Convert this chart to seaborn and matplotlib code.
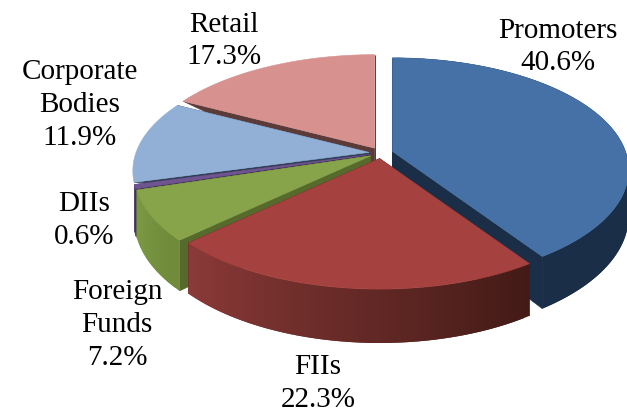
import numpy as np
import matplotlib
matplotlib.use("Agg")
import matplotlib.pyplot as plt
import seaborn as sns

# Data
categories = ["Promoters", "FIIs", "Foreign\nFunds", "DIIs", "Corporate\nBodies", "Retail"]
shares = [40.6, 22.3, 7.2, 0.6, 11.9, 17.3]

# Style
top_colors = ["#4671A6", "#A5423F", "#88A44B", "#6F5590", "#92B0D6", "#D79290"]
wall_colors = ["#1A2E47", "#4A1C18", "#566B2B", "#3F2F58", "#2F4058", "#5A3B3A"]
side_left = ["#1A2E47", "#8A3A38", "#7C9A45", "#5A4578", "#6E88AA", "#A87472"]
side_right = ["#1A2E47", "#431A16", "#6E8A3A", "#3F2F58", "#4A5F7C", "#7A5250"]
label_xy = [(558, 47), (318, 384), (117, 325), (84, 221), (80, 105), (224, 41)]
draw_order = [5, 4, 3, 2, 0, 1]

CX, CY = 381.0, 154.0      # pie centre in pixels
RX, RY = 233.0, 109.0      # projected radii
PERSP = 0.165              # near edge looks larger
DEPTH = 45.0               # pie thickness
EXPLODE = 12.0

sns.set_theme(style="white")
plt.rcParams["font.family"] = ["Liberation Serif", "DejaVu Serif"]

fig = plt.figure(figsize=(6.27, 4.14), dpi=100, facecolor="white")
ax = fig.add_axes([0, 0, 1, 1])
ax.set_xlim(0, 627)
ax.set_ylim(414, 0)
ax.axis("off")


def project(ox, oy, theta, r=1.0, drop=0.0):
    """Clockwise-from-top angle on the exploded disc -> screen position."""
    s, c = np.sin(theta), np.cos(theta)
    depth_y = -c * r
    w = 1.0 - PERSP * depth_y
    return ox + RX * s * r / w, oy + RY * depth_y / w + drop * DEPTH / w


def paint(xs, ys, color, z, lw=0.4):
    ax.fill(xs, ys, facecolor=color, edgecolor=color, linewidth=lw, zorder=z)


total = sum(shares)
fractions = np.array(shares) / total
edges = np.concatenate([[0.0], np.cumsum(fractions)]) * 2 * np.pi

for z, i in enumerate(draw_order):
    a0, a1 = edges[i], edges[i + 1]
    mid = (a0 + a1) / 2
    ox = CX + EXPLODE * np.sin(mid)
    oy = CY - EXPLODE * RY / RX * np.cos(mid)
    arc = np.linspace(a0, a1, max(6, int((a1 - a0) * 40)))
    base = z * 10
    # outer wall of the upper-left slices faces away from the viewer
    back_slice = np.cos(mid) >= -PERSP and np.sin(mid) < 0

    # radial walls
    for a in (a0, a1):
        ex, ey = project(ox, oy, a)
        if back_slice:
            paint([ox, ex, ox], [oy, ey, oy + DEPTH], wall_colors[i], base)
        else:
            fx, fy = project(ox, oy, a, drop=1)
            paint([ox, ex, fx, ox], [oy, ey, fy, oy + DEPTH], wall_colors[i], base)

    # outer wall, shaded along the arc, each strip overlapping the next
    if not back_slice:
        shades = sns.blend_palette([side_right[i], side_left[i]], len(arc) - 1)
        for j in range(len(arc) - 1):
            stop = arc[min(j + 2, len(arc) - 1)]
            x1, y1 = project(ox, oy, arc[j])
            x2, y2 = project(ox, oy, stop)
            x3, y3 = project(ox, oy, stop, drop=1)
            x4, y4 = project(ox, oy, arc[j], drop=1)
            ax.fill([x1, x2, x3, x4], [y1, y2, y3, y4], facecolor=shades[j],
                    edgecolor="none", zorder=base + 1)

    # top face
    tx, ty = project(ox, oy, arc)
    paint(np.r_[ox, tx], np.r_[oy, ty], top_colors[i], base + 2)

# labels
for name, share, (lx, ly) in zip(categories, shares, label_xy):
    ax.text(lx, ly, f"{name}\n{share:.1f}%", ha="center", va="center",
            fontsize=21, color="black", linespacing=1.35, zorder=200)

fig.savefig("out.png", dpi=100)
